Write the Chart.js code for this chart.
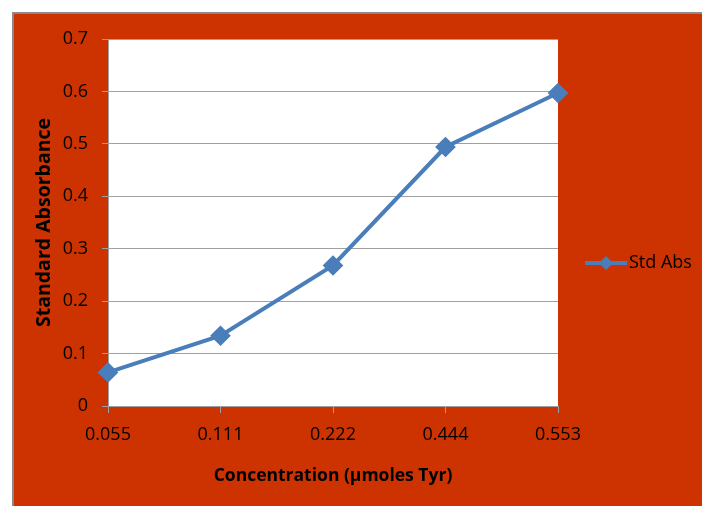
<!DOCTYPE html>
<html>
<head>
<meta charset="utf-8">
<style>
  html, body { margin: 0; padding: 0; background: #fff; }
  #wrap { width: 702px; height: 506px; }
</style>
</head>
<body>
<div id="wrap"><canvas id="chart" width="702" height="506"></canvas></div>
<script src="https://cdn.jsdelivr.net/npm/chart.js"></script>
<script>
  const concentrations = ['0.055', '0.111', '0.222', '0.444', '0.553'];
  const stdAbs = [0.064, 0.134, 0.268, 0.494, 0.597];
  const seriesName = 'Std Abs';
  const xTitle = 'Concentration (µmoles Tyr)';
  const yTitle = 'Standard Absorbance';

  const orange = '#cc3300';
  const blue = '#4a7ebb';

  // orange frame + white plot area + legend
  const backdrop = {
    id: 'backdrop',
    beforeDraw(chart) {
      const c = chart.ctx;
      const a = chart.chartArea;
      c.save();
      c.fillStyle = '#ffffff';
      c.fillRect(0, 0, chart.width, chart.height);
      c.fillStyle = orange;
      c.fillRect(12, 12, chart.width - 12, chart.height - 12);
      c.fillStyle = '#8a8a8a';
      c.fillRect(12, 12, chart.width - 12, 2);
      c.fillRect(12, 12, 2, chart.height - 12);
      c.fillStyle = '#ffffff';
      c.fillRect(a.left, a.top, a.right - a.left, a.bottom - a.top);
      c.restore();
    },
    afterDraw(chart) {
      const c = chart.ctx;
      const ds = chart.data.datasets[0];
      const y = 263;
      c.save();
      c.strokeStyle = ds.borderColor;
      c.lineWidth = 4;
      c.beginPath();
      c.moveTo(585, y);
      c.lineTo(627, y);
      c.stroke();
      c.fillStyle = ds.backgroundColor;
      c.beginPath();
      c.moveTo(606, y - 7);
      c.lineTo(613, y);
      c.lineTo(606, y + 7);
      c.lineTo(599, y);
      c.closePath();
      c.fill();
      c.fillStyle = '#000';
      c.font = '18px "Open Sans"';
      c.textBaseline = 'middle';
      c.fillText(ds.label, 629, y);
      c.restore();
    }
  };

  const ctx = document.getElementById('chart').getContext('2d');
  new Chart(ctx, {
    type: 'line',
    data: {
      labels: concentrations,
      datasets: [{
        label: seriesName,
        data: stdAbs,
        borderColor: blue,
        backgroundColor: blue,
        borderWidth: 4,
        pointStyle: 'rectRot',
        pointRadius: 7.5,
        pointHoverRadius: 7.5,
        tension: 0,
        fill: false
      }]
    },
    options: {
      responsive: false,
      animation: false,
      devicePixelRatio: 1,
      layout: { padding: { left: 0, top: 39, right: 144, bottom: 0 } },
      plugins: {
        legend: { display: false },
        tooltip: { enabled: false }
      },
      scales: {
        x: {
          offset: false,
          grid: { drawOnChartArea: false, color: '#a0a0a0', tickLength: 7 },
          border: { color: '#a0a0a0', width: 1 },
          ticks: { color: '#000', font: { family: 'Open Sans', size: 18 }, padding: 11, maxRotation: 0 },
          title: {
            display: true,
            text: xTitle,
            color: '#000',
            font: { family: 'Open Sans', size: 17.5, weight: 'bold' },
            padding: { top: 0, bottom: 19.5 }
          },
          afterFit(scale) { scale.height = 100; }
        },
        y: {
          min: 0,
          max: 0.7,
          ticks: {
            stepSize: 0.1,
            color: '#000',
            font: { family: 'Open Sans', size: 18 },
            padding: 14,
            callback: (v) => Math.round(v * 10) / 10
          },
          grid: { color: '#a0a0a0', tickLength: 6 },
          border: { color: '#a0a0a0', width: 1 },
          title: {
            display: true,
            text: yTitle,
            color: '#000',
            font: { family: 'Open Sans', size: 19.5, weight: 'bold' },
            padding: { top: 33, bottom: 0 }
          },
          afterFit(scale) { scale.width = 108; }
        }
      }
    },
    plugins: [backdrop]
  });
</script>
</body>
</html>
